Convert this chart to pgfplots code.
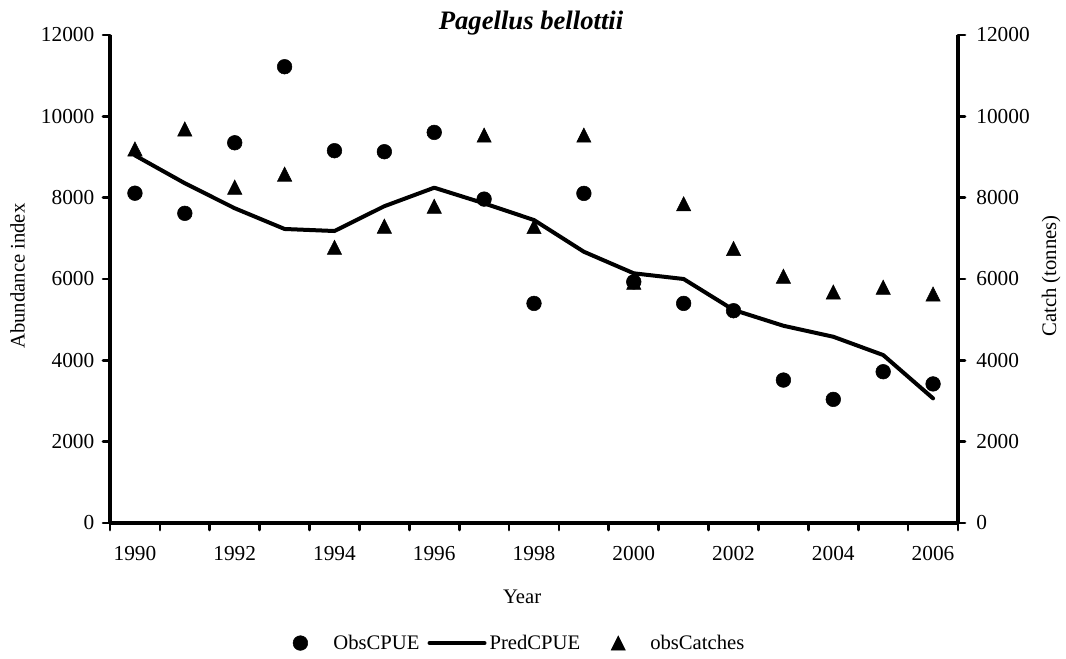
\documentclass[border=0pt]{standalone}
\usepackage{fontspec}
\setmainfont{Liberation Serif}
\usepackage{pgfplots}
\pgfplotsset{compat=1.18}

\pgfplotstableread{
year obs pred catch
1990 8110 9040 9200
1991 7615 8355 9690
1992 9350 7740 8260
1993 11220 7230 8580
1994 9155 7180 6780
1995 9130 7790 7300
1996 9605 8245 7790
1997 7965 7860 9540
1998 5400 7450 7290
1999 8105 6670 9540
2000 5930 6140 5920
2001 5400 6000 7850
2002 5220 5240 6750
2003 3515 4850 6070
2004 3040 4580 5680
2005 3720 4130 5800
2006 3420 3065 5630
}\datatable

\begin{document}
\begin{tikzpicture}
\useasboundingbox (-82.5pt,-101.25pt) rectangle (717pt,392.25pt);
\pgfplotsset{
  common/.style={
    width=636pt, height=366pt, scale only axis,
    xmin=1989.5, xmax=2006.5, ymin=0, ymax=12000,
    ytick={0,2000,...,12000},
    scaled y ticks=false,
    tick align=outside,
    major tick length=5.25pt, minor tick length=5.25pt,
    tick style={black, line width=2pt, line cap=round},
    axis line style={black, line width=3pt, -},
    /pgf/number format/1000 sep={},
    /pgf/number format/assume math mode=true,
    /pgf/number format/fixed,
    tick label style={font=\fontsize{16}{19}\selectfont},
    label style={font=\fontsize{15.5}{18}\selectfont},
    clip=false,
  }
}
\begin{axis}[common,
  axis x line*=bottom, axis y line*=left,
  xtick={1989.5,1990.5,...,2006.5},
  xticklabels={},
  extra x ticks={1990,1992,...,2006},
  extra x tick labels={1990,1992,1994,1996,1998,2000,2002,2004,2006},
  extra x tick style={major tick length=0pt, xticklabel style={yshift=-14pt}},
  yticklabel style={xshift=-3pt},
  xlabel={Year}, ylabel={Abundance index},
  xlabel style={at={(axis description cs:0.486,-0.164)}, anchor=base},
  ylabel style={at={(axis description cs:-0.109,0.506)}, anchor=center},
  title={Pagellus bellottii},
  every axis title shift=0pt,
  title style={at={(axis description cs:0.4965,1.0123)}, anchor=base, yshift=0pt, font=\fontsize{20}{24}\selectfont\bfseries\itshape},
  legend style={at={(axis description cs:0.482,-0.246)}, anchor=center, draw=none, fill=none,
    legend columns=3, font=\fontsize{15.5}{18}\selectfont, nodes={inner sep=0pt},
    /tikz/every even column/.style={column sep=0pt}, /tikz/every odd column/.style={column sep=0pt}},
]
\addplot[only marks, mark=*, mark size=5.5pt, black,
  legend image code/.code={\path[draw=none] (0pt,0pt) -- (30pt,0pt); \draw plot coordinates {(5.25pt,0pt)};}]
  table[x=year, y=obs] {\datatable};
\addlegendentry{ObsCPUE}
\addplot[black, line width=3pt, line join=round, line cap=round, mark=none,
  legend image code/.code={\path[draw=none] (0pt,0pt) -- (52.5pt,0pt); \draw (7.5pt,0pt) -- (48.75pt,0pt);}]
  table[x=year, y=pred] {\datatable};
\addlegendentry{PredCPUE}
\addlegendimage{only marks, mark=triangle*, mark size=6.2pt, black, mark options={yshift=-1.8pt, yscale=1.15},
  legend image code/.code={\path[draw=none] (0pt,0pt) -- (52.5pt,0pt); \draw plot coordinates {(28.5pt,0pt)};}}
\addlegendentry{obsCatches}
\end{axis}
\begin{axis}[common,
  axis x line=none, axis y line*=right,
  yticklabel style={xshift=5pt},
  ylabel={Catch (tonnes)},
  ylabel style={at={(axis description cs:1.1097,0.506)}, anchor=center},
]
\addplot[only marks, mark=triangle*, mark size=6.2pt, black, mark options={yshift=-1.8pt, yscale=1.15}]
  table[x=year, y=catch] {\datatable};
\end{axis}
\end{tikzpicture}
\end{document}
